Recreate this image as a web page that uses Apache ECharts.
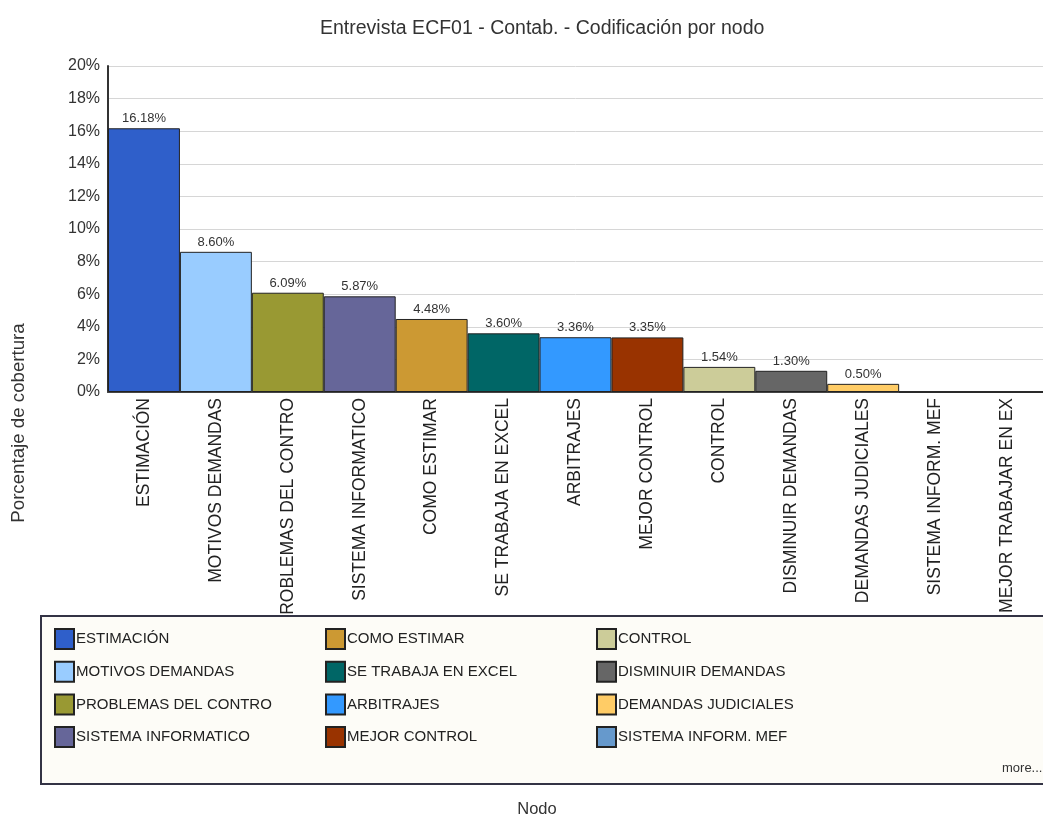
<!DOCTYPE html>
<html>
<head>
<meta charset="utf-8">
<script src="https://cdn.jsdelivr.net/npm/echarts@6/dist/echarts.min.js"></script>
<style>
html,body{margin:0;padding:0;background:#fff;}
#chart{width:1043px;height:823px;}
</style>
</head>
<body>
<div id="chart"></div>
<script>
const categories = ["ESTIMACIÓN","MOTIVOS DEMANDAS","PROBLEMAS DEL CONTRO","SISTEMA INFORMATICO","COMO ESTIMAR","SE TRABAJA EN EXCEL","ARBITRAJES","MEJOR CONTROL","CONTROL","DISMINUIR DEMANDAS","DEMANDAS JUDICIALES","SISTEMA INFORM. MEF","MEJOR TRABAJAR EN EX"];
const values = [16.18, 8.60, 6.09, 5.87, 4.48, 3.60, 3.36, 3.35, 1.54, 1.30, 0.50, 0, 0];
const colors = ["#2f5fca","#99ccff","#999933","#666699","#cc9933","#006666","#3399ff","#993300","#cccc99","#666666","#ffcc66","#6699cc","#996633"];
const yTicks = [0,2,4,6,8,10,12,14,16,18,20];
const titleText = "Entrevista ECF01 - Contab. - Codificación por nodo";
const yName = "Porcentaje de cobertura";
const xName = "Nodo";

const SANS = "'Liberation Sans',Arial,sans-serif";

const chart = echarts.init(document.getElementById('chart'), null, {renderer:'canvas'});

const series = categories.map((name, i) => ({
  name: name,
  type: 'bar',
  stack: 'all',
  barCategoryGap: '0%',
  data: values.map((v, j) => j === i ? v : '-'),
  itemStyle: { color: colors[i], borderColor: '#222', borderWidth: 1 },
  label: {
    show: true, position: 'top', distance: 3,
    fontFamily: SANS, fontSize: 13, color: '#333',
    formatter: p => (p.value > 0 ? p.value.toFixed(2) + '%' : '')
  },
  emphasis: { disabled: true }
}));

function legendCol(names, left) {
  return {
    data: names, orient: 'vertical', left: left, top: 628, padding: 0,
    itemWidth: 19, itemHeight: 20, itemGap: 10.7, icon: 'rect',
    selectedMode: false, z: 120,
    textStyle: { fontFamily: SANS, fontSize: 15, lineHeight: 18, color: '#222', padding: [0,0,0,-3] }
  };
}

chart.setOption({
  animation: false,
  backgroundColor: '#fff',
  title: {
    text: titleText, left: 315, top: 14,
    textStyle: { fontFamily: SANS, fontSize: 19.5, fontWeight: 'normal', color: '#333' }
  },
  grid: { left: 108, top: 66, width: 949, height: 326, containLabel: false },
  legend: [
    legendCol(categories.slice(0,4), 54),
    legendCol(categories.slice(4,8), 325),
    legendCol(categories.slice(8,12), 596)
  ],
  xAxis: {
    type: 'category', data: categories,
    axisLine: { lineStyle: { color: '#444', width: 2 } },
    axisTick: { show: false },
    axisLabel: { interval: 0, rotate: 90, margin: 6, fontFamily: SANS, fontSize: 17.5, color: '#222' }
  },
  yAxis: {
    type: 'value', min: 0, max: 20, interval: 2,
    axisLine: { show: true, lineStyle: { color: '#333', width: 2 } },
    axisTick: { show: false },
    splitLine: { lineStyle: { color: '#d6d6d6', width: 1 } },
    axisLabel: { margin: 8, fontFamily: SANS, fontSize: 16, color: '#333',
      formatter: v => (yTicks.indexOf(v) >= 0 ? v + '%' : '') }
  },
  series: series,
  graphic: [
    { type: 'rect', z: 100, shape: { x: 41, y: 616, width: 1010, height: 168 },
      style: { fill: '#fdfcf7', stroke: '#333344', lineWidth: 2 } },
    { type: 'text', z: 110, x: 1002, y: 768,
      style: { text: 'more...', fontFamily: SANS, fontSize: 13, fill: '#333', verticalAlign: 'middle' } },
    { type: 'text', z: 110, x: 19, y: 423, rotation: Math.PI/2,
      style: { text: yName, fontFamily: SANS, fontSize: 18.7, fill: '#333', align: 'center', verticalAlign: 'middle' } },
    { type: 'text', z: 110, x: 537, y: 809,
      style: { text: xName, fontFamily: SANS, fontSize: 16.5, fill: '#333', align: 'center', verticalAlign: 'middle' } }
  ]
});
</script>
</body>
</html>
